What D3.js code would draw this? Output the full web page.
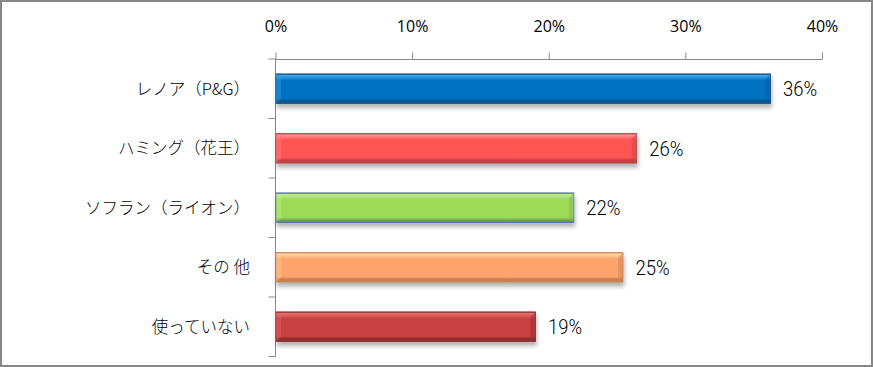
<!DOCTYPE html>
<html><head><meta charset="utf-8">
<script src="https://cdn.jsdelivr.net/npm/d3@7"></script>
<style>body{margin:0;background:#fff}svg{display:block}</style>
</head><body>
<script>
const categories = ["レノア（P&G）", "ハミング（花王）", "ソフラン（ライオン）", "その 他", "使っていない"];
const values = [0.362, 0.264, 0.218, 0.254, 0.19];
const valueLabels = ["36%", "26%", "22%", "25%", "19%"];
const tickValues = [0, 0.1, 0.2, 0.3, 0.4];
const tickLabels = ["0%", "10%", "20%", "30%", "40%"];
const colors = [
  {base:"#0672c2", light:"#3aa8ec", dark:"#045a9a", edge:"#1d4f80"},
  {base:"#ff5454", light:"#ff9090", dark:"#c94040", edge:"#b84545"},
  {base:"#9edc58", light:"#c6f08a", dark:"#7cb444", edge:"#4a72a8"},
  {base:"#fda56c", light:"#ffd8a0", dark:"#c97e52", edge:"#c8845a"},
  {base:"#c8403f", light:"#e87070", dark:"#8f2e2e", edge:"#8a3030"}
];

const W = 873, H = 367;
const svg = d3.select("body").append("svg").attr("width", W).attr("height", H);
svg.append("rect").attr("x",1).attr("y",1).attr("width",W-2).attr("height",H-2)
  .attr("fill","#fff").attr("stroke","#878787").attr("stroke-width",2);

const x = d3.scaleLinear().domain([0, 0.4]).range([275.5, 822]);
const y = d3.scaleBand().domain(categories).range([59, 356.5]).paddingInner(0.5).paddingOuter(0.25);

const defs = svg.append("defs");
colors.forEach((c,i)=>{
  const g = defs.append("linearGradient").attr("id","g"+i).attr("x1",0).attr("y1",0).attr("x2",0).attr("y2",1);
  g.append("stop").attr("offset","0").attr("stop-color",c.edge);
  g.append("stop").attr("offset","0.06").attr("stop-color",c.light);
  g.append("stop").attr("offset","0.22").attr("stop-color",c.base);
  g.append("stop").attr("offset","0.82").attr("stop-color",c.base);
  g.append("stop").attr("offset","0.9").attr("stop-color",c.dark);
  g.append("stop").attr("offset","1").attr("stop-color",c.edge);
});
const sg = defs.append("filter").attr("id","sh").attr("x","-5%").attr("y","-20%").attr("width","115%").attr("height","160%");
sg.append("feGaussianBlur").attr("in","SourceAlpha").attr("stdDeviation",2.2);
sg.append("feOffset").attr("dx",1).attr("dy",4).attr("result","b");
sg.append("feComponentTransfer").append("feFuncA").attr("type","linear").attr("slope",0.3);
const m = sg.append("feMerge"); m.append("feMergeNode"); m.append("feMergeNode").attr("in","SourceGraphic");

// top axis
const xAxis = d3.axisTop(x).tickValues(tickValues).tickFormat((d,i)=>tickLabels[i]).tickSize(7).tickPadding(21);
const gx = svg.append("g").attr("transform","translate(0,59.5)").call(xAxis);
gx.select(".domain").attr("stroke","#898989").attr("d", `M${x(0)},0H${x(0.4)}`);
gx.selectAll(".tick line").attr("stroke","#898989");
gx.selectAll("text").attr("font-family","'Open Sans','Noto Sans',sans-serif").attr("font-size",16).attr("fill","#000");

// left axis
const yAxisG = svg.append("g");
yAxisG.append("line").attr("x1",x(0)).attr("x2",x(0)).attr("y1",59).attr("y2",356.5).attr("stroke","#898989");
const step = (356.5-59)/categories.length;
d3.range(categories.length+1).forEach(i=>{
  yAxisG.append("line").attr("x1",x(0)-7).attr("x2",x(0)).attr("y1",59+i*step).attr("y2",59+i*step).attr("stroke","#898989");
});
svg.selectAll(".cat").data(categories).enter().append("text")
  .attr("x", 250).attr("y", d=>y(d)+y.bandwidth()/2).attr("dy","0.36em")
  .attr("text-anchor","end").attr("font-family","'Noto Sans CJK JP',sans-serif").attr("font-weight",300).attr("font-size",16.5).attr("fill","#000")
  .text(d=>d);

// bars
const bars = svg.selectAll(".bar").data(values).enter().append("g").attr("filter","url(#sh)");
bars.append("rect").attr("x",x(0)+0.5).attr("y",(d,i)=>y(categories[i]))
  .attr("width",d=>x(d)-x(0)).attr("height",y.bandwidth())
  .attr("fill",(d,i)=>`url(#g${i})`).attr("stroke",(d,i)=>colors[i].edge).attr("stroke-width",0.8);
bars.append("path").attr("d",(d,i)=>{
  const y0=y(categories[i]), h=y.bandwidth(), x0=x(0)+0.5;
  return `M${x0},${y0}L${x0+5},${y0+5}L${x0+5},${y0+h-5}L${x0},${y0+h}Z`;
}).attr("fill",(d,i)=>colors[i].light).attr("opacity",0.35);
bars.append("path").attr("d",(d,i)=>{
  const y0=y(categories[i]), h=y.bandwidth(), x1=x(d)+0.5;
  return `M${x1},${y0}L${x1-5},${y0+5}L${x1-5},${y0+h-5}L${x1},${y0+h}Z`;
}).attr("fill",(d,i)=>colors[i].dark).attr("opacity",0.45);

svg.selectAll(".vl").data(values).enter().append("text")
  .attr("transform",(d,i)=>`translate(${x(d)+13},${y(categories[i])+y.bandwidth()/2}) scale(0.88,1)`)
  .attr("dy","0.36em")
  .attr("font-family","'Roboto','Liberation Sans',sans-serif").attr("font-weight",300)
  .attr("font-size",21).attr("fill","#000").text((d,i)=>valueLabels[i]);
</script>
</body></html>
